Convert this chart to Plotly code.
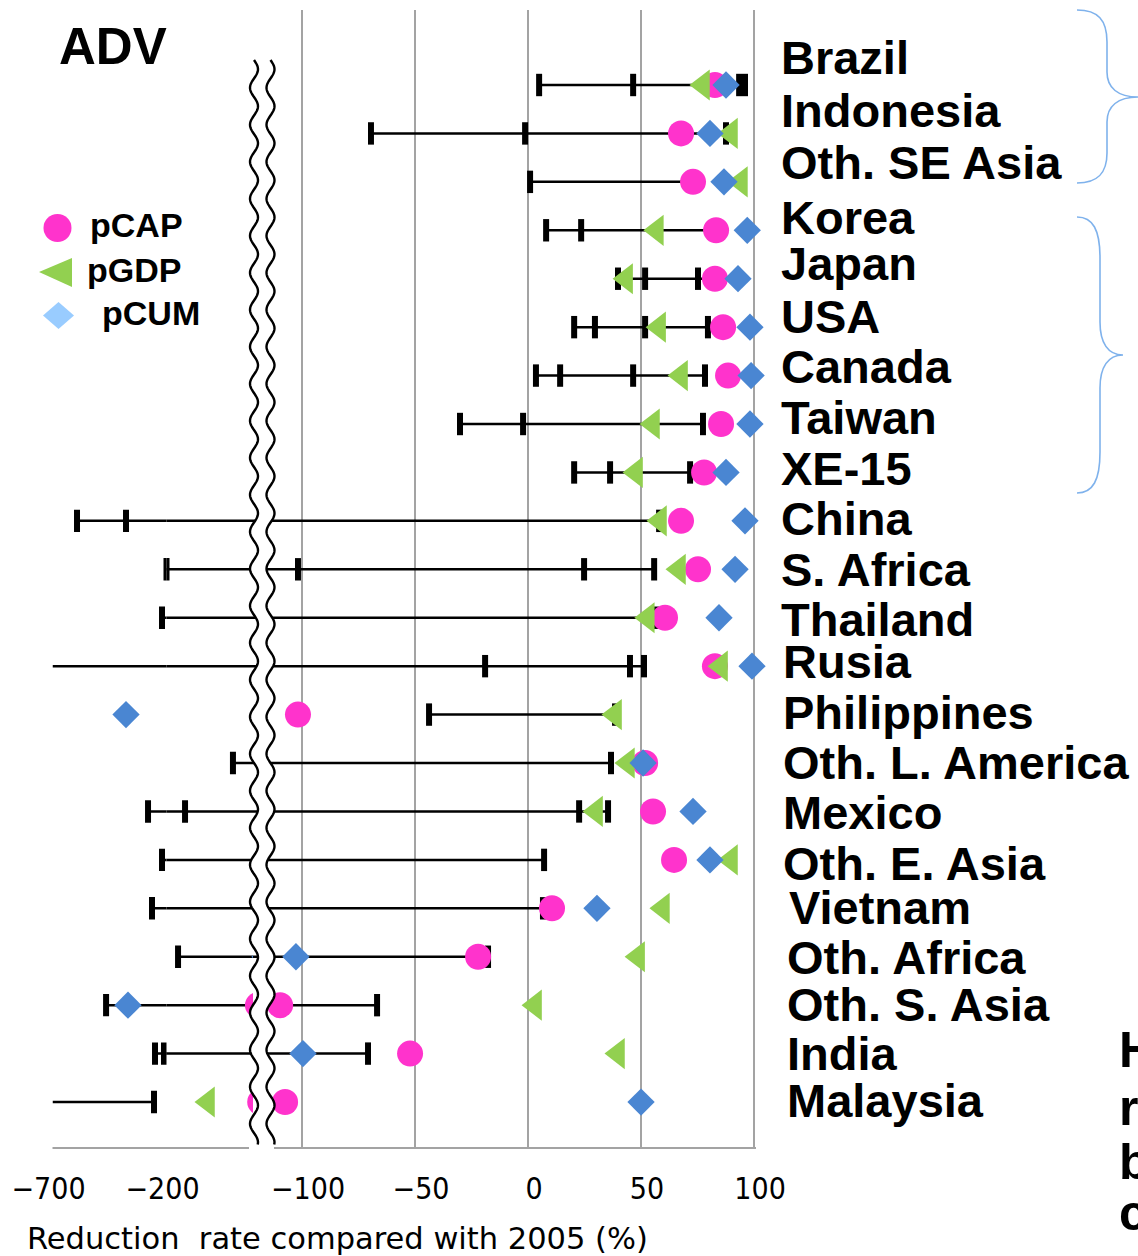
import math
import plotly.graph_objects as go

W, H = 1138, 1256

# ---------------- data ----------------
countries = ["Brazil", "Indonesia", "Oth. SE Asia", "Korea", "Japan", "USA", "Canada",
             "Taiwan", "XE-15", "China", "S. Africa", "Thailand", "Rusia", "Philippines",
             "Oth. L. America", "Mexico", "Oth. E. Asia", "Vietnam", "Oth. Africa",
             "Oth. S. Asia", "India", "Malaysia"]

pcap = [82.7, 67.7, 73.0, 83.2, 82.7, 86.3, 88.5, 85.4, 77.9, 67.7, 75.2, 60.6, 82.7,
        -101.8, 51.8, 55.3, 64.6, 10.6, -22.1, -109.7, -52.2, -107.5]
pgdp = [77.4, 89.8, 94.2, 57.0, 43.4, 58.0, 67.7, 55.3, 47.8, 58.4, 66.8, 53.0, 85.4,
        38.5, 44.2, 30.1, 89.8, 59.7, 48.7, 3.1, 39.8, -159.0]
pcum = [87.6, 80.5, 86.7, 97.0, 92.9, 98.2, 98.7, 98.2, 87.6, 96.0, 91.6, 84.5, 99.1,
        -377.6, 50.9, 73.0, 80.5, 30.5, -102.7, -368.9, -99.6, 50.0]

range_ticks = [
    [4.9, 46.5, 93.4, 96.0],
    [-69.5, -1.3, 87.6],
    [0.9],
    [8.0, 23.5],
    [39.8, 51.8, 75.2],
    [20.4, 29.6, 51.8, 79.6],
    [3.5, 14.2, 46.5, 78.3],
    [-30.1, -2.2, 77.4],
    [20.4, 36.3, 71.7],
    [-592.5, -377.6, 58.0],
    [-200.0, -101.8, 24.8, 55.8],
    [-219.7, 56.6],
    [-19.0, 45.1, 51.3],
    [-43.8, 38.5],
    [-134.4, 36.7],
    [-281.0, -181.7, 22.6, 35.4],
    [-219.7, 7.1],
    [-263.6, 6.6],
    [-188.6, -17.7],
    [-465.0, -66.8],
    [-250.4, -211.0, -70.8],
    [-254.8],
]
range_lo = [4.9, -69.5, 0.9, 8.0, 39.8, 20.4, 3.5, -30.1, 20.4, -592.5, -200.0, -219.7,
            -700.0, -43.8, -134.4, -281.0, -219.7, -263.6, -188.6, -465.0, -250.4, -700.0]
range_hi = [96.0, 87.6, 73.0, 83.2, 82.7, 79.6, 78.3, 77.4, 71.7, 58.0, 55.8, 56.6, 51.3,
            38.5, 36.7, 35.4, 7.1, 6.6, -17.7, -66.8, -70.8, -254.8]

left_tickvals = [-700, -200]
left_ticktext = ["\u2212700", "\u2212200"]
right_tickvals = [-100, -50, 0, 50, 100]
right_ticktext = ["\u2212100", "\u221250", "0", "50", "100"]

series_names = ["pCAP", "pGDP", "pCUM"]

# ---------------- styling / layout helpers ----------------
C_CAP = "#FF33CC"
C_GDP = "#92D050"
C_CUM = "#4A86D2"
C_CUM_LEG = "#99CCFF"
GRID = "#A3A3A3"


def fx(px):
    return px / W


def fy(py):
    return 1 - py / H


# broken axis pieces (pixel domains)
P_LEFT, P_M200, P_BRK, P_RIGHT_END = 52.5, 166.5, 253.0, 800.0
Y_TOP_R, Y_TOP_L, Y_BOT = 10.0, 88.0, 1148.0
ROW0, ROWSTEP = 85.0, 48.43
SCALE_R = 2.26      # px per unit, right panel
SCALE_M = 1.013     # px per unit, middle piece
r3_lo = -121.7
r3_hi = r3_lo + (P_RIGHT_END - P_BRK) / SCALE_R
r2_hi = -200 + (P_BRK - P_M200) / SCALE_M

n = len(countries)
yr_top = -(ROW0 - Y_TOP_R) / ROWSTEP
yl_top = -(ROW0 - Y_TOP_L) / ROWSTEP
y_bot = (n - 1) + (Y_BOT - (ROW0 + (n - 1) * ROWSTEP)) / ROWSTEP

fig = go.Figure()


def keep_left(v):
    # the far-left piece only shows values up to -200
    return v if v <= -200 else None


panels = [("x", "y", keep_left), ("x2", "y", None), ("x3", "y2", None)]
for xa, ya, filt in panels:
    f = filt if filt else (lambda v: v)
    lx, ly = [], []
    for c, lo, hi in zip(countries, range_lo, range_hi):
        lx += [lo, hi, None]
        ly += [c, c, None]
    fig.add_trace(go.Scatter(x=lx, y=ly, xaxis=xa, yaxis=ya, mode="lines",
                             line=dict(color="black", width=2.5), showlegend=False,
                             hoverinfo="skip"))
    tx, ty = [], []
    for c, ticks in zip(countries, range_ticks):
        for t in ticks:
            tx.append(f(t))
            ty.append(c)
    fig.add_trace(go.Scatter(x=tx, y=ty, xaxis=xa, yaxis=ya, mode="markers",
                             marker=dict(symbol="line-ns", size=16,
                                         line=dict(color="black", width=6)),
                             showlegend=False, hoverinfo="skip"))
    fig.add_trace(go.Scatter(x=[f(v) for v in pcap], y=countries, xaxis=xa, yaxis=ya,
                             mode="markers", name=series_names[0],
                             marker=dict(symbol="circle", size=26, color=C_CAP,
                                         line=dict(width=0)), showlegend=False))
    fig.add_trace(go.Scatter(x=[f(v) for v in pgdp], y=countries, xaxis=xa, yaxis=ya,
                             mode="markers", name=series_names[1],
                             marker=dict(symbol="triangle-left", size=27, color=C_GDP,
                                         line=dict(width=0)), showlegend=False))
    fig.add_trace(go.Scatter(x=[f(v) for v in pcum], y=countries, xaxis=xa, yaxis=ya,
                             mode="markers", name=series_names[2],
                             marker=dict(symbol="diamond", size=21, color=C_CUM,
                                         line=dict(width=0)), showlegend=False))

tickfont = dict(family="DejaVu Sans Condensed, Liberation Sans Narrow, sans-serif",
                size=30, color="black")
common_x = dict(showline=False, zeroline=False, ticks="", tickfont=tickfont,
                gridcolor=GRID, gridwidth=1.8, fixedrange=True, ticklabelstandoff=20,
                automargin=False)

fig.update_layout(
    width=W, height=H,
    margin=dict(l=0, r=0, t=0, b=0, pad=0, autoexpand=False),
    paper_bgcolor="white", plot_bgcolor="rgba(0,0,0,0)",
    showlegend=False,
    xaxis=dict(domain=[fx(P_LEFT), fx(P_M200)], range=[-700, -200], anchor="y",
               tickmode="array", tickvals=left_tickvals, ticktext=left_ticktext,
               showgrid=True, ticklabelshift=-4, **common_x),
    xaxis2=dict(domain=[fx(P_M200), fx(P_BRK)], range=[-200, r2_hi], anchor="y",
                showticklabels=False, showgrid=False, showline=False, zeroline=False,
                ticks="", fixedrange=True, automargin=False),
    xaxis3=dict(domain=[fx(P_BRK), fx(P_RIGHT_END)], range=[r3_lo, r3_hi], anchor="y2",
                tickmode="array", tickvals=right_tickvals, ticktext=right_ticktext,
                showgrid=True, ticklabelshift=6, **common_x),
    yaxis=dict(domain=[fy(Y_BOT), fy(Y_TOP_L)], type="category",
               categoryorder="array", categoryarray=countries,
               range=[y_bot, yl_top], visible=False, fixedrange=True, automargin=False),
    yaxis2=dict(domain=[fy(Y_BOT), fy(Y_TOP_R)], type="category",
                categoryorder="array", categoryarray=countries,
                range=[y_bot, yr_top], visible=False, fixedrange=True, automargin=False),
)

shapes = []
# bottom axis line (with gap at the break)
for x0, x1 in [(P_LEFT, 249), (274, 756)]:
    shapes.append(dict(type="line", xref="paper", yref="paper", x0=fx(x0), x1=fx(x1),
                       y0=fy(Y_BOT), y1=fy(Y_BOT), line=dict(color=GRID, width=1.8),
                       layer="above"))


# wavy axis break
def wave(xc, y0, y1, amp=4.0, period=37.0, step=1.5):
    pts = []
    y = y0
    while y <= y1 + 1e-9:
        pts.append((xc + amp * math.sin(2 * math.pi * (y - y0) / period), y))
        y += step
    return pts


def to_path(pts, close=False):
    s = "M " + " L ".join(f"{fx(px):.5f},{fy(py):.5f}" for px, py in pts)
    return s + (" Z" if close else "")


w1 = wave(254.0, 60, 1150)
w2 = wave(270.5, 60, 1150)
shapes.append(dict(type="path", xref="paper", yref="paper",
                   path=to_path(w1 + w2[::-1], close=True),
                   fillcolor="white", line=dict(width=0), layer="above"))
w1b = wave(254.0, 60, 1145)
w2b = wave(270.5, 60, 1145)
for w in (w1b, w2b):
    shapes.append(dict(type="path", xref="paper", yref="paper", path=to_path(w),
                       line=dict(color="black", width=2.4), layer="above"))

# legend box and glyphs
shapes.append(dict(type="rect", xref="paper", yref="paper", x0=fx(20), x1=fx(245),
                   y0=fy(351), y1=fy(194), fillcolor="white", line=dict(width=0),
                   layer="above"))
shapes.append(dict(type="circle", xref="paper", yref="paper", x0=fx(43.5), x1=fx(71.5),
                   y0=fy(242), y1=fy(214), fillcolor=C_CAP, line=dict(width=0),
                   layer="above"))
shapes.append(dict(type="path", xref="paper", yref="paper",
                   path=to_path([(39, 272), (72, 258), (72, 287)], close=True),
                   fillcolor=C_GDP, line=dict(width=0), layer="above"))
shapes.append(dict(type="path", xref="paper", yref="paper",
                   path=to_path([(58.5, 302), (74, 315.5), (58.5, 329), (43, 315.5)], close=True),
                   fillcolor=C_CUM_LEG, line=dict(width=0), layer="above"))


# braces
def brace(pts_str):
    return dict(type="path", xref="paper", yref="paper", path=pts_str,
                line=dict(color="#7FB2EC", width=1.6), layer="above")


def P(px, py):
    return f"{fx(px):.5f},{fy(py):.5f}"


b1 = (f"M {P(1077,10)} C {P(1098,10)} {P(1107,20)} {P(1107,42)} L {P(1107,72)} "
      f"C {P(1107,88)} {P(1118,97)} {P(1138,97)} C {P(1118,97)} {P(1107,106)} {P(1107,122)} "
      f"L {P(1107,153)} C {P(1107,173)} {P(1098,183)} {P(1077,183)}")
b2 = (f"M {P(1077,217)} C {P(1093,217)} {P(1100,230)} {P(1100,258)} L {P(1100,322)} "
      f"C {P(1100,343)} {P(1108,355)} {P(1123,355)} C {P(1108,355)} {P(1100,367)} {P(1100,388)} "
      f"L {P(1100,452)} C {P(1100,480)} {P(1093,493)} {P(1077,493)}")
shapes += [brace(b1), brace(b2)]

fig.update_layout(shapes=shapes)

# ---------------- text ----------------
bold_font = "Liberation Sans, Arial, Helvetica, sans-serif"
ann = []
label_x = [779, 779, 779, 779, 779, 779, 779, 779, 779, 779, 779, 779, 781, 781, 781,
           781, 781, 787, 785, 785, 785, 785]
label_y = [57, 110, 163, 217, 263, 316, 366, 417, 468, 518, 569, 619, 661, 712, 763,
           812, 863, 908, 957, 1004, 1053, 1100]
for name, lx, ly in zip(countries, label_x, label_y):
    ann.append(dict(text=name, x=fx(lx), y=fy(ly), xref="paper", yref="paper",
                    xanchor="left", yanchor="middle", showarrow=False,
                    font=dict(family=bold_font, size=47, color="black", weight="bold")))

ann.append(dict(text="ADV", x=fx(113), y=fy(47), xref="paper", yref="paper",
                xanchor="center", yanchor="middle", showarrow=False,
                font=dict(family=bold_font, size=51, color="black", weight="bold")))

for name, lx, ly in zip(series_names, [88, 85, 100], [225, 270, 313]):
    ann.append(dict(text=name, x=fx(lx), y=fy(ly), xref="paper", yref="paper",
                    xanchor="left", yanchor="middle", showarrow=False,
                    font=dict(family=bold_font, size=34, color="black", weight="bold")))

for t, ly in zip(["H", "ra", "b", "c"], [1050, 1108, 1162, 1213]):
    ann.append(dict(text=t, x=fx(1117), y=fy(ly), xref="paper", yref="paper",
                    xanchor="left", yanchor="middle", showarrow=False,
                    font=dict(family=bold_font, size=50, color="black", weight="bold")))

ann.append(dict(text="Reduction  rate compared with 2005 (%)", x=fx(25), y=fy(1238),
                xref="paper", yref="paper", xanchor="left", yanchor="middle",
                showarrow=False,
                font=dict(family="DejaVu Sans, Liberation Sans, sans-serif",
                          size=30.5, color="black")))

fig.update_layout(annotations=ann)

fig.write_html("out.html", config={"displayModeBar": False},
               post_script="document.body.style.margin='0';")
